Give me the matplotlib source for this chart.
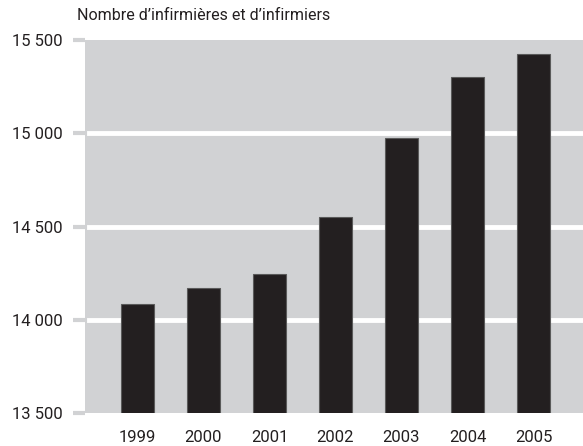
import matplotlib.pyplot as plt
import numpy as np

plt.rcParams['font.family'] = ['Roboto', 'DejaVu Sans']

years = ["1999", "2000", "2001", "2002", "2003", "2004", "2005"]
nurses = [14085, 14170, 14245, 14552, 14972, 15300, 15420]
yticks = [13500, 14000, 14500, 15000, 15500]
ylabels = ["13 500", "14 000", "14 500", "15 000", "15 500"]

txt = "#231f20"
fig = plt.figure(figsize=(5.83, 4.46), dpi=100)
ax = fig.add_axes([0.1458, 0.0729, 0.8542, 0.8385])
ax.set_facecolor("#d1d2d4")

x = np.arange(len(years))
# white gridlines only between the ends
for v in yticks[1:-1]:
    ax.axhline(v, xmin=0.008, xmax=1, color="white", lw=3.5, zorder=1)
ax.bar(x, nurses, width=0.51, color=txt, edgecolor="#5a5a5a", linewidth=0.8, zorder=2)

ax.set_xlim(-0.795, 6.75)
ax.set_ylim(13500, 15500)
ax.set_xticks(x, years)
ax.set_yticks(yticks, ylabels)
for s in ax.spines.values():
    s.set_visible(False)
ax.tick_params(axis="x", length=0, pad=12, labelsize=12, labelcolor=txt)
ax.tick_params(axis="y", length=9, width=3, color="#d1d2d4", pad=7, labelsize=12, labelcolor=txt)

fig.text(0.132, 0.965, "Nombre d\u2019infirmières et d\u2019infirmiers", fontsize=11.5, color=txt, va="center")

fig.savefig("out.png", dpi=100)
